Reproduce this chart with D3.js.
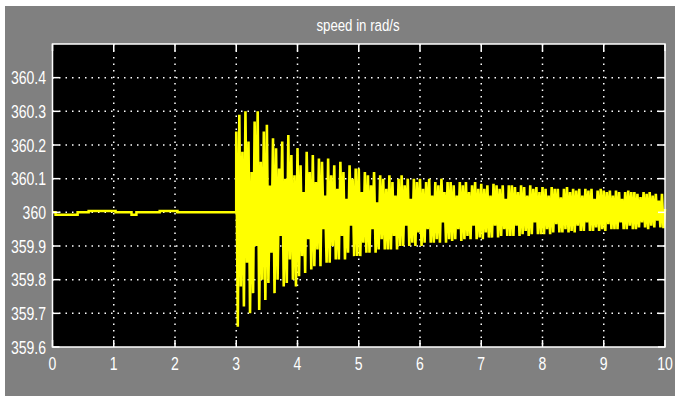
<!DOCTYPE html>
<html>
<head>
<meta charset="utf-8">
<script src="https://cdn.jsdelivr.net/npm/d3@7"></script>
<style>
  body { margin: 0; background: #fff; }
  text { font-family: "Liberation Sans", Arial, sans-serif; fill: #fff; }
</style>
</head>
<body>
<script>
// chart size
var width = 675;
var height = 396;

// axis ticks
var xTicks = [0, 1, 2, 3, 4, 5, 6, 7, 8, 9, 10];
var yTicks = [359.6, 359.7, 359.8, 359.9, 360, 360.1, 360.2, 360.3, 360.4];
var title = "speed in rad/s";

// steady part before the disturbance (t, speed)
var preTime = [0, 0.05, 0.41, 0.59, 1.03, 1.29, 1.37, 1.75, 2.04, 3.0];
var preSpeed = [360, 359.993, 360, 360.004, 360, 359.993, 360, 360.004, 360, 360];

// oscillation after t = 3 s, sampled every 0.05 s
var oscStart = 3;
var oscStep = 0.05;
// upper peaks
var peakHigh = [
  360.24, 360.29, 360.18, 360.30, 360.21, 360.12, 360.27, 360.30, 360.15, 360.24,
  360.26, 360.08, 360.22, 360.19, 360.13, 360.21, 360.10, 360.23, 360.17, 360.11,
  360.19, 360.14, 360.06, 360.18, 360.12, 360.17, 360.09, 360.16, 360.15, 360.05,
  360.16, 360.11, 360.14, 360.07, 360.15, 360.12, 360.04, 360.14, 360.10, 360.13,
  360.13, 360.06, 360.12, 360.11, 360.08, 360.12, 360.03, 360.11, 360.10, 360.07,
  360.11, 360.09, 360.05, 360.10, 360.11, 360.08, 360.10, 360.04, 360.10, 360.09,
  360.10, 360.07, 360.09, 360.10, 360.05, 360.09, 360.08, 360.10, 360.06, 360.09,
  360.09, 360.08, 360.05, 360.09, 360.08, 360.09, 360.06, 360.08, 360.09, 360.07,
  360.085, 360.07, 360.08, 360.05, 360.085, 360.08, 360.07, 360.08, 360.04, 360.08,
  360.08, 360.075, 360.06, 360.08, 360.075, 360.05, 360.08, 360.07, 360.075, 360.06,
  360.075, 360.07, 360.05, 360.075, 360.07, 360.07, 360.045, 360.07, 360.075, 360.06,
  360.07, 360.065, 360.07, 360.05, 360.07, 360.065, 360.07, 360.04, 360.065, 360.07,
  360.065, 360.06, 360.065, 360.05, 360.065, 360.06, 360.04, 360.06, 360.065, 360.06,
  360.06, 360.055, 360.045, 360.06, 360.055, 360.06, 360.05, 360.055, 360.035, 360.055
];
// lower peaks (half a step later)
var peakLow = [
  359.66, 359.78, 359.72, 359.85, 359.70, 359.76, 359.90, 359.71, 359.80, 359.74,
  359.79, 359.88, 359.76, 359.80, 359.93, 359.78, 359.79, 359.86, 359.80, 359.78,
  359.81, 359.87, 359.82, 359.92, 359.83, 359.84, 359.89, 359.84, 359.95, 359.85,
  359.85, 359.90, 359.86, 359.86, 359.93, 359.86, 359.88, 359.96, 359.87, 359.87,
  359.87, 359.91, 359.88, 359.88, 359.95, 359.88, 359.89, 359.92, 359.89, 359.89,
  359.89, 359.93, 359.89, 359.90, 359.90, 359.96, 359.90, 359.91, 359.90, 359.94,
  359.90, 359.91, 359.95, 359.91, 359.91, 359.92, 359.91, 359.97, 359.91, 359.92,
  359.915, 359.92, 359.95, 359.915, 359.92, 359.93, 359.92, 359.96, 359.92, 359.925,
  359.92, 359.94, 359.925, 359.925, 359.96, 359.925, 359.93, 359.95, 359.93, 359.93,
  359.93, 359.96, 359.93, 359.935, 359.945, 359.93, 359.935, 359.97, 359.935, 359.935,
  359.935, 359.95, 359.935, 359.94, 359.965, 359.94, 359.94, 359.95, 359.94, 359.945,
  359.94, 359.96, 359.945, 359.945, 359.97, 359.945, 359.945, 359.955, 359.945, 359.95,
  359.945, 359.965, 359.95, 359.95, 359.95, 359.97, 359.95, 359.95, 359.96, 359.95,
  359.95, 359.955, 359.97, 359.955, 359.95, 359.96, 359.955, 359.975, 359.955, 359.953
];

// plot box
var plotLeft = 52.5, plotRight = 665, plotTop = 44, plotBottom = 347;

var x = d3.scaleLinear().domain([0, 10]).range([plotLeft, plotRight]);
var y = d3.scaleLinear().domain([359.6, 360.5]).range([plotBottom, plotTop]);

var svg = d3.select("body")
            .append("svg")
            .attr("width", width)
            .attr("height", height);

// grey scope background
svg.append("rect")
   .attr("x", 5).attr("y", 6)
   .attr("width", width - 5).attr("height", height - 6)
   .attr("fill", "#808080");

// narrow labels like the scope font
function label(px, py, anchor, size, txt) {
    svg.append("text")
       .attr("transform", "translate(" + px + "," + py + ") scale(0.78,1)")
       .attr("text-anchor", anchor)
       .style("font-size", size + "px")
       .text(txt);
}

// title
label(358, 31, "middle", 17, title);

// black plot area
svg.append("rect")
   .attr("x", plotLeft).attr("y", plotTop)
   .attr("width", plotRight - plotLeft).attr("height", plotBottom - plotTop)
   .attr("fill", "#000");

// dotted grid
var grid = svg.append("g");
grid.selectAll(".gx")
    .data(xTicks.slice(1, -1))
    .enter().append("line")
    .attr("x1", d => x(d)).attr("x2", d => x(d))
    .attr("y1", plotTop).attr("y2", plotBottom);
grid.selectAll(".gy")
    .data(yTicks.slice(1))
    .enter().append("line")
    .attr("x1", plotLeft).attr("x2", plotRight)
    .attr("y1", d => y(d)).attr("y2", d => y(d));
grid.selectAll("line")
    .attr("stroke", "#fff")
    .attr("stroke-width", 1.5)
    .attr("stroke-dasharray", "1.5,5");

// signal
var pre = preTime.map((t, i) => [t, preSpeed[i]]);
svg.append("path")
   .datum(pre)
   .attr("d", d3.line().curve(d3.curveStepAfter).x(d => x(d[0])).y(d => y(d[1])))
   .attr("fill", "none")
   .attr("stroke", "#ffff00")
   .attr("stroke-width", 2.5);

var osc = [[oscStart, 360]];
peakHigh.forEach(function(v, i) {
    osc.push([oscStart + i * oscStep, v]);
    osc.push([oscStart + (i + 0.5) * oscStep, peakLow[i]]);
});
osc.push([10, 360.01]);

svg.append("path")
   .datum(osc)
   .attr("d", d3.line().x(d => x(d[0])).y(d => y(d[1])))
   .attr("fill", "none")
   .attr("stroke", "#ffff00")
   .attr("stroke-width", 2.6)
   .attr("stroke-linejoin", "bevel");

// frame
svg.append("rect")
   .attr("x", plotLeft).attr("y", plotTop)
   .attr("width", plotRight - plotLeft).attr("height", plotBottom - plotTop)
   .attr("fill", "none")
   .attr("stroke", "#fff")
   .attr("stroke-width", 1.5);

// inward ticks on all four sides
var tl = 7;
var ticks = svg.append("g").attr("stroke", "#fff").attr("stroke-width", 1.5);
xTicks.forEach(function(t) {
    ticks.append("line").attr("x1", x(t)).attr("x2", x(t)).attr("y1", plotBottom).attr("y2", plotBottom - tl);
    ticks.append("line").attr("x1", x(t)).attr("x2", x(t)).attr("y1", plotTop).attr("y2", plotTop + tl);
});
yTicks.forEach(function(t) {
    ticks.append("line").attr("x1", plotLeft).attr("x2", plotLeft + tl).attr("y1", y(t)).attr("y2", y(t));
    ticks.append("line").attr("x1", plotRight).attr("x2", plotRight - tl).attr("y1", y(t)).attr("y2", y(t));
});

// tick labels
xTicks.forEach(function(t) { label(x(t), 369.5, "middle", 18, t); });
yTicks.forEach(function(t) { label(46, y(t) + 6.5, "end", 18, t); });
</script>
</body>
</html>
